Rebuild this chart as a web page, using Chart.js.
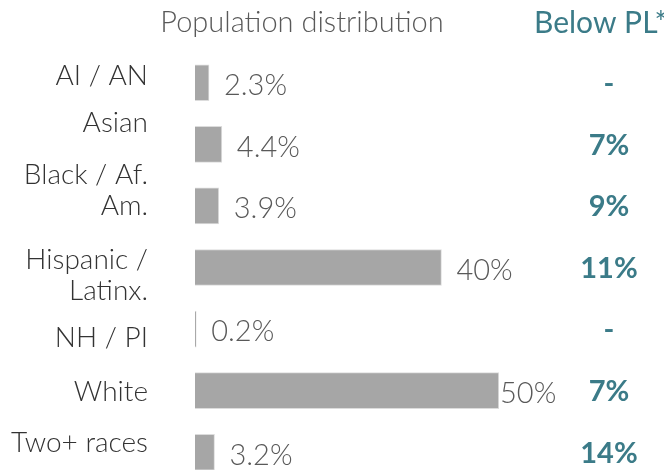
<!DOCTYPE html>
<html>
<head>
<meta charset="utf-8">
<script src="https://cdn.jsdelivr.net/npm/chart.js@4"></script>
<style>
  html, body { margin: 0; padding: 0; background: #fff; overflow: hidden; }
  #wrap { width: 664px; height: 484px; position: relative; }
</style>
</head>
<body>
<div id="wrap"><canvas id="pop"></canvas></div>
<script>
// data
let groups = [["AI / AN"], ["Asian"], ["Black / Af.", "Am."], ["Hispanic /", "Latinx."], ["NH / PI"], ["White"], ["Two+ races"]]
let popShare = [2.3, 4.4, 3.9, 40.4, 0.2, 49.8, 3.2]
let belowPL = ["-", "7%", "9%", "11%", "-", "7%", "14%"]
let popTitle = "Population distribution"
let plTitle = "Below PL*"

// how far each left label sits from its bar centre (px)
let labelShift = [-7, -21, -15, 8, 9, 1, -9]

const teal = "#3b7b88"
const fam = "Lato, 'Open Sans', sans-serif"

function fmt(v) {
    return (v >= 10 ? Math.round(v) : v.toFixed(1)) + "%"
}

let tablePlugin = {
    id: "tableText",
    afterDatasetsDraw(chart) {
        let ctx = chart.ctx
        let xs = chart.scales.x
        let ys = chart.scales.y
        let area = chart.chartArea
        ctx.save()

        // headers
        ctx.textBaseline = "middle"
        ctx.textAlign = "center"
        ctx.fillStyle = "#595959"
        ctx.font = "300 29px " + fam
        ctx.fillText(popTitle, 302, 23)
        ctx.fillStyle = teal
        ctx.font = "400 30px " + fam
        ctx.textAlign = "left"
        ctx.fillText(plTitle, 534, 23)

        groups.forEach((lines, i) => {
            let yc = ys.getPixelForValue(i)

            // category label, right aligned
            ctx.fillStyle = "#333333"
            ctx.font = "300 28px " + fam
            ctx.textAlign = "right"
            let lh = 31
            let y0 = yc + labelShift[i] - (lines.length - 1) * lh / 2
            lines.forEach((t, k) => ctx.fillText(t, 148, y0 + k * lh))

            // value label after the bar
            let end = xs.getPixelForValue(popShare[i])
            ctx.fillStyle = "#595959"
            ctx.font = "300 29px " + fam
            ctx.textAlign = "left"
            ctx.fillText(fmt(popShare[i]), Math.min(end + 15, area.right), yc + 3)

            // below poverty line column
            ctx.fillStyle = teal
            ctx.font = "700 29px " + fam
            ctx.textAlign = "center"
            ctx.fillText(belowPL[i], 609, yc + 1)
        })
        ctx.restore()
    }
}

new Chart(document.getElementById("pop"), {
    type: "bar",
    data: {
        labels: groups,
        datasets: [{
            label: popTitle,
            data: popShare,
            backgroundColor: "#a6a6a6",
            borderColor: "#dcdcdc",
            borderWidth: 1,
            barThickness: 36
        }]
    },
    options: {
        indexAxis: "y",
        responsive: true,
        maintainAspectRatio: false,
        animation: false,
        layout: { padding: { left: 195, right: 164, top: 52, bottom: 1 } },
        scales: {
            x: { display: false, min: 0, max: 50 },
            y: { display: false }
        },
        plugins: {
            legend: { display: false },
            tooltip: { enabled: false }
        }
    },
    plugins: [tablePlugin]
});
</script>
</body>
</html>
